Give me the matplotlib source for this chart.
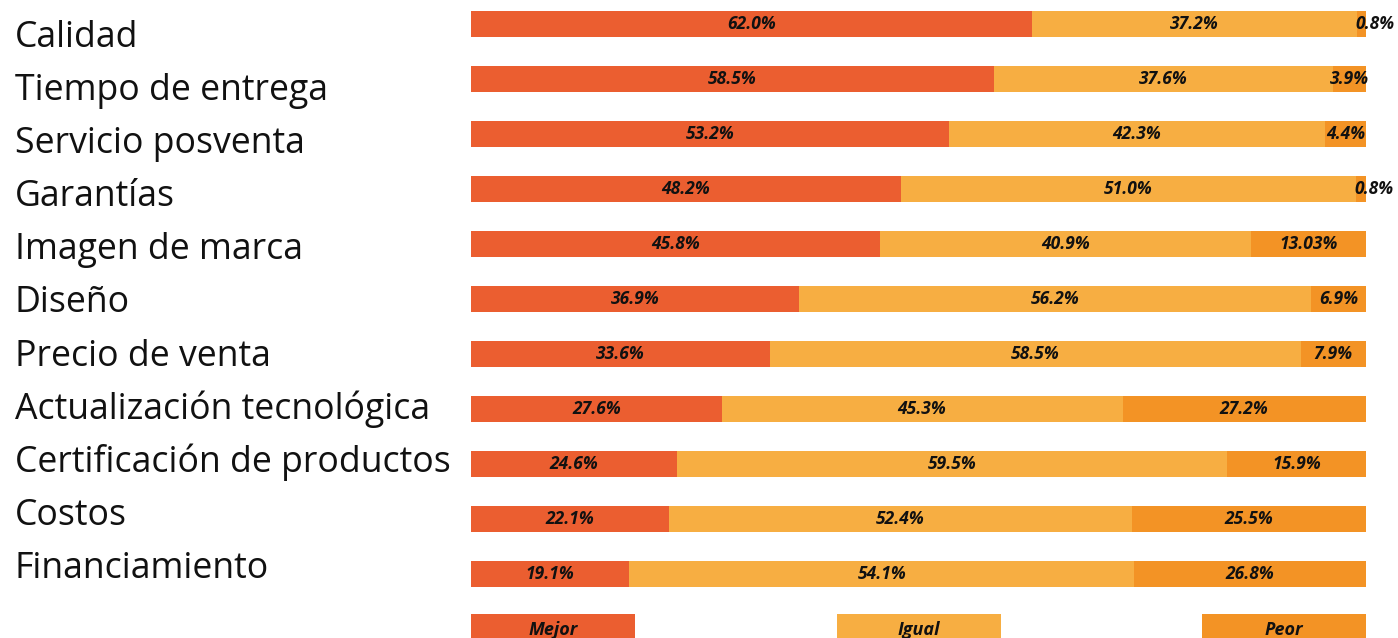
import matplotlib
matplotlib.use("Agg")
import matplotlib.pyplot as plt
import numpy as np

categories = ["Calidad", "Tiempo de entrega", "Servicio posventa", "Garantías",
              "Imagen de marca", "Diseño", "Precio de venta",
              "Actualización tecnológica", "Certificación de productos",
              "Costos", "Financiamiento"]
# printed values
mejor = [62.0, 58.5, 53.2, 48.2, 45.8, 36.9, 33.6, 27.6, 24.6, 22.1, 19.1]
igual = [37.2, 37.6, 42.3, 51.0, 40.9, 56.2, 58.5, 45.3, 59.5, 52.4, 54.1]
peor_labels = ["0.8%", "3.9%", "4.4%", "0.8%", "13.03%", "6.9%", "7.9%",
               "27.2%", "15.9%", "25.5%", "26.8%"]
# segment lengths as drawn in the picture (percent of full bar)
mejor_bar = [62.7, 58.4, 53.4, 48.0, 45.7, 36.6, 33.4, 28.0, 23.0, 22.1, 17.7]
igual_bar = [36.3, 37.9, 42.0, 50.9, 41.5, 57.3, 59.3, 44.8, 61.5, 51.8, 56.4]
peor_bar = [1.0, 3.7, 4.6, 1.1, 12.8, 6.1, 7.3, 27.2, 15.5, 26.1, 25.9]
series_names = ["Mejor", "Igual", "Peor"]
colors = ["#EB5E30", "#F7AE42", "#F39325"]

W, H = 1398, 638
fig = plt.figure(figsize=(W / 100, H / 100), dpi=100)

ax = fig.add_axes([471 / W, 0, 895 / W, 1])
ax.set_ylim(H, 0)
ax.axis("off")

n = len(categories)
ypos = 24 + 55 * np.arange(n)
bar_h = 26

vals = [np.array(mejor_bar), np.array(igual_bar), np.array(peor_bar)]
lefts = [np.zeros(n), vals[0], vals[0] + vals[1]]
texts = [[f"{v:.1f}%" for v in mejor], [f"{v:.1f}%" for v in igual],
         peor_labels]
ax.set_xlim(0, (vals[0] + vals[1] + vals[2]).max())

lab_font = dict(family=["Open Sans", "DejaVu Sans"], fontsize=12.5,
                fontweight="bold", fontstyle="italic", color="#111111")

for k in range(3):
    ax.barh(ypos, vals[k], left=lefts[k], height=bar_h, color=colors[k],
            linewidth=0)
    for i in range(n):
        v = vals[k][i]
        txt = texts[k][i]
        if v < 2:
            ax.text(lefts[k][i] - 0.15, ypos[i], txt, ha="left", va="center",
                    clip_on=False, **lab_font)
        else:
            ax.text(lefts[k][i] + v / 2, ypos[i], txt, ha="center",
                    va="center", **lab_font)

for i, c in enumerate(categories):
    fig.text(15 / W, 1 - (47 + 53.1 * i) / H, c, ha="left", va="baseline",
             family=["Open Sans", "DejaVu Sans"], fontsize=25.7, color="#111111")

leg_ax = fig.add_axes([471 / W, 0, 895 / W, 24 / H])
leg_ax.set_xlim(0, 895)
leg_ax.set_ylim(0, 24)
leg_ax.axis("off")
box_w = 164
gap = (895 - 3 * box_w) / 2
leg_font = dict(lab_font)
leg_font["fontsize"] = 13
for k, name in enumerate(series_names):
    x0 = k * (box_w + gap)
    leg_ax.add_patch(plt.Rectangle((x0, 0), box_w, 24, color=colors[k],
                                   linewidth=0, clip_on=False))
    leg_ax.text(x0 + box_w / 2, 3, name, ha="center", va="baseline",
                **leg_font)

fig.savefig("out.png", dpi=100)
